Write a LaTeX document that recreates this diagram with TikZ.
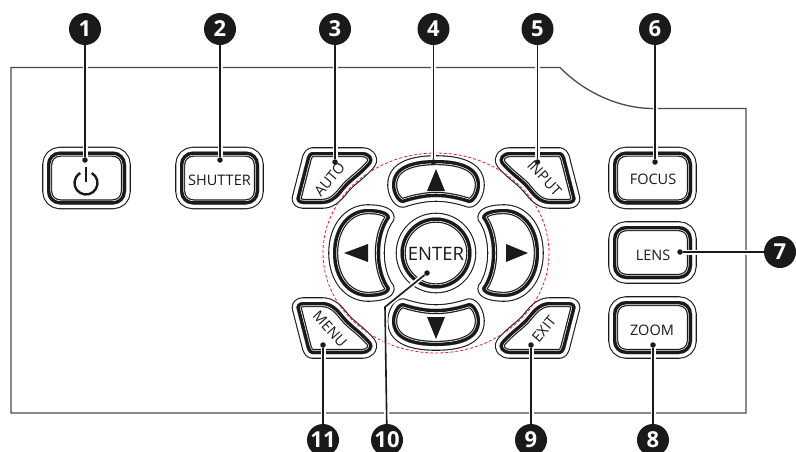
\documentclass[tikz,border=0pt]{standalone}
\usepackage{fontspec}
\setmainfont{Open Sans}
\usetikzlibrary{positioning}
\definecolor{panelgray}{HTML}{4A4A4A}
\definecolor{keyblack}{HTML}{1A1A1A}
\definecolor{ringred}{HTML}{E8202A}
\tikzset{
  numbered/.style={circle, fill=keyblack, text=white, minimum size=32pt, inner sep=0pt, font=\fontsize{22}{22}\selectfont\bfseries},
  tip/.style={circle, fill=keyblack, minimum size=5.5pt, inner sep=0pt},
  leader/.style={keyblack, line width=1.6pt, preaction={draw=white, line width=5pt}},
  keylabel/.style={text=keyblack, inner sep=0pt, font=\fontsize{14.5}{14.5}\selectfont},
  arrowmark/.style={fill=keyblack, draw=none}
}
% outline of a key: thin rim, then heavy band and hairline inside the path
\newcommand{\keyshape}[2]{
\begin{scope}[#1]
\draw[keyblack, line width=9.6pt, line join=round] #2;
\draw[white, line width=7.4pt, line join=round] #2;
\fill[white] #2;
\begin{scope}
\clip #2;
\draw[keyblack, line width=10.4pt] #2;
\draw[white, line width=8pt] #2;
\draw[keyblack, line width=6.6pt] #2;
\end{scope}
\end{scope}
}
\newcommand{\roundkey}{[rounded corners=13pt] (-39.5,-26.5) rectangle (39.5,26.5)}
\newcommand{\upkey}{(0,-93) .. controls (22,-93) and (44,-88) .. (44,-68) .. controls (44,-60) and (39,-50) .. (33,-50) .. controls (24,-53) and (12,-56) .. (0,-56) .. controls (-12,-56) and (-24,-53) .. (-33,-50) .. controls (-39,-50) and (-44,-60) .. (-44,-68) .. controls (-44,-88) and (-22,-93) .. (0,-93) -- cycle}
\newcommand{\leftkey}{(-103,0) .. controls (-103,-26) and (-88,-44) .. (-68,-44) .. controls (-58,-44) and (-46,-42) .. (-46,-35) .. controls (-53,-26) and (-56,-12) .. (-56,0) .. controls (-56,12) and (-53,26) .. (-46,35) .. controls (-46,42) and (-58,44) .. (-68,44) .. controls (-88,44) and (-103,26) .. (-103,0) -- cycle}
\newcommand{\cornerkey}{(-124,-101) -- (-74,-101) .. controls (-66,-101) and (-61,-95) .. (-65,-89) .. controls (-75,-77) and (-85,-72) .. (-92,-63) .. controls (-99,-54) and (-105,-49) .. (-114,-49) -- (-133,-49) .. controls (-138,-49) and (-141,-53) .. (-139,-57) -- (-129,-96) .. controls (-128,-99) and (-126,-101) .. (-124,-101) -- cycle}
\begin{document}
\begin{tikzpicture}[x=1pt, y=-1pt]
\useasboundingbox (0,0) rectangle (796,451);
\clip (0,0) rectangle (796,451);
% panel
\draw[panelgray, line width=1.3pt, line join=miter] (11,67.5) -- (560,67.5) .. controls (585,93) and (620,108.5) .. (653,108.5) -- (746,108.5) -- (746,413) -- (11,413) -- cycle;
% rectangular keys
\keyshape{shift={(86.5,178)}}{\roundkey}
\keyshape{shift={(219.5,178)}}{\roundkey}
\keyshape{shift={(652.5,178)}}{\roundkey}
\keyshape{shift={(652.5,252.5)}}{\roundkey}
\keyshape{shift={(652.5,327.5)}}{\roundkey}
% keys around the centre
\keyshape{shift={(436,253)}}{\upkey}
\keyshape{shift={(436,253)}, yscale=-1}{\upkey}
\keyshape{shift={(436,253)}}{\leftkey}
\keyshape{shift={(436,253)}, xscale=-1}{\leftkey}
\keyshape{shift={(436,253)}}{\cornerkey}
\keyshape{shift={(436,253)}, xscale=-1}{\cornerkey}
\keyshape{shift={(436,253)}, yscale=-1}{\cornerkey}
\keyshape{shift={(436,253)}, xscale=-1, yscale=-1}{\cornerkey}
\keyshape{shift={(436,253)}}{(0,0) circle (35.5)}
\draw[ringred, densely dashed, line width=0.8pt] (436,253) ellipse (113 and 100);
% arrow marks
\fill[arrowmark] (436,169) -- (445,191) -- (427,191) -- cycle;
\fill[arrowmark] (436,339) -- (445,317) -- (427,317) -- cycle;
\fill[arrowmark] (344,253) -- (368,244) -- (368,262) -- cycle;
\fill[arrowmark] (528,253) -- (506,244) -- (506,262) -- cycle;
% power symbol
\draw[keyblack, line width=2.4pt] (86,183) ++(-60:11.5) arc[start angle=-60, end angle=240, radius=11.5];
\draw[keyblack, line width=2.4pt] (86,167) -- (86,182);
% key labels
\node[keylabel] (shutter) at (219.5,180) {SHUTTER};
\node[keylabel] (focus) at (653,179) {FOCUS};
\node[keylabel] (lens) at (653,255) {LENS};
\node[keylabel] (zoomkey) at (652,330) {ZOOM};
\node[keylabel] (auto) at (329.5,179) [rotate=50] {AUTO};
\node[keylabel] (input) at (544.5,178) [rotate=-47] {INPUT};
\node[keylabel] (menu) at (330,329) [rotate=-48] {MENU};
\node[keylabel] (exit) at (544,329) [rotate=50] {EXIT};
\node[keylabel, font=\fontsize{18.5}{18.5}\selectfont] (enter) at (436,254) {ENTER};
% leader ends
\node[tip] (d1) at (85,160) {};
\node[tip] (d2) at (220,160) {};
\node[tip] (d3) at (335,162) {};
\node[tip] (d4) at (433.5,162) {};
\node[tip] (d5) at (537.5,162) {};
\node[tip] (d6) at (655,162) {};
\node[tip] (d7) at (680,252) {};
\node[tip] (d8) at (653,345) {};
\node[tip] (d9) at (531,345) {};
\node[tip] (d10) at (427,273) {};
\node[tip] (d11) at (323,345) {};
\coordinate (bend) at (385,307);
% numbers
\node[numbered] (n1) at (85,29) {1};
\node[numbered] (n2) at (220,29) {2};
\node[numbered] (n3) at (335,29) {3};
\node[numbered] (n4) at (433.5,29) {4};
\node[numbered] (n5) at (537.5,29) {5};
\node[numbered] (n6) at (655,29) {6};
\node[numbered] (n7) at (780,252) {7};
\node[numbered] (n8) at (653,440) {8};
\node[numbered] (n9) at (531,440) {9};
\node[numbered] (n10) at (387,440) {10};
\node[numbered] (n11) at (323,440) {11};
% leaders
\foreach \i in {1,...,9,11} {
\draw[leader] (n\i) -- (d\i);
}
\draw[leader] (n10) -- (bend) -- (d10);
\end{tikzpicture}
\end{document}
